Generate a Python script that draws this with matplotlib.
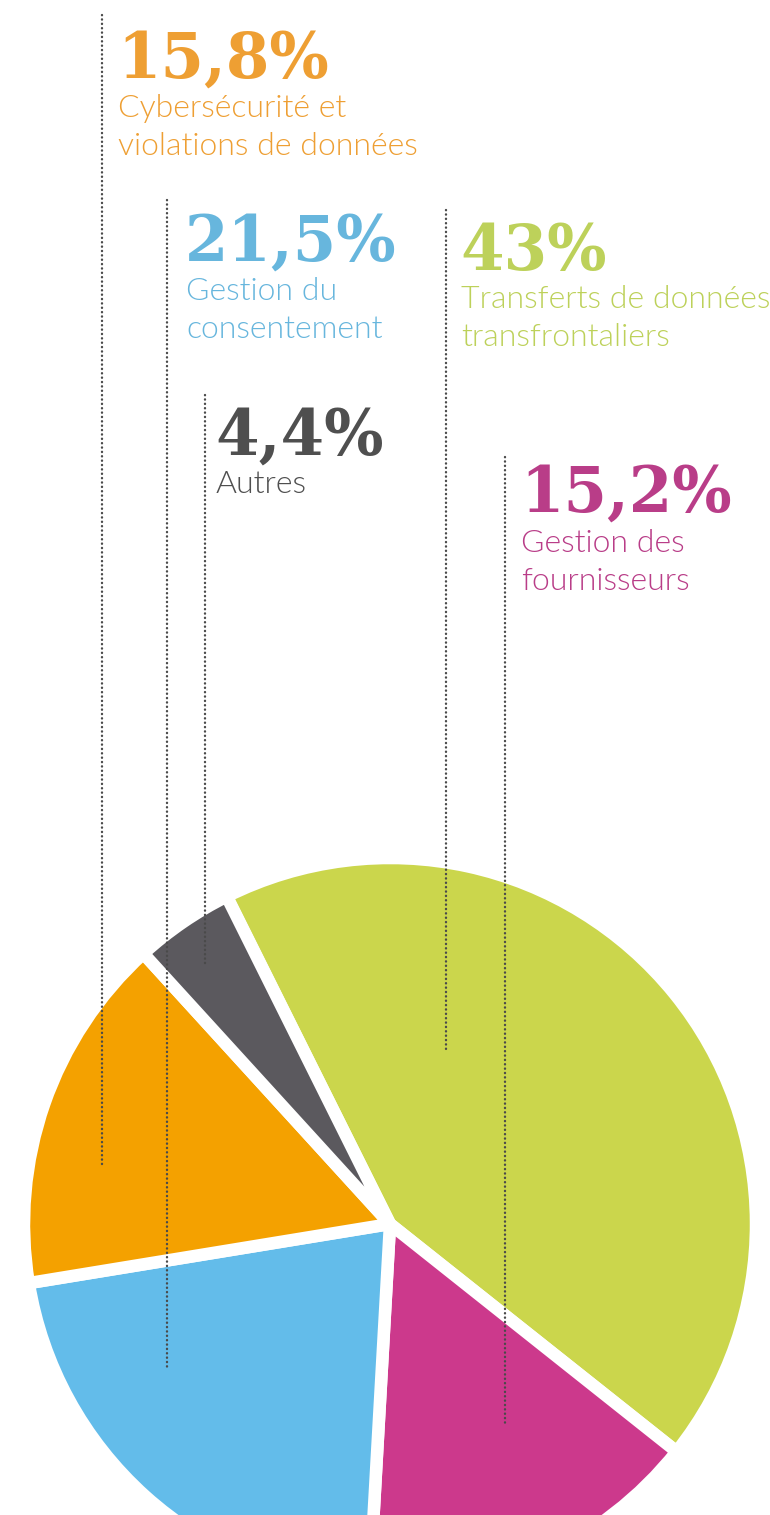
import matplotlib
matplotlib.use("Agg")
import matplotlib.pyplot as plt

# ---- data ----
categories = ["Transferts de données\ntransfrontaliers", "Gestion des\nfournisseurs",
              "Gestion du\nconsentement", "Cybersécurité et\nviolations de données", "Autres"]
values = [43, 15.2, 21.5, 15.8, 4.4]
slice_colors = ["#CBD64C", "#CC398C", "#63BCEA", "#F4A100", "#5B595E"]
text_colors = ["#BDD15A", "#B93D88", "#67B6DD", "#EE9F33", "#4F4F4F"]

# ---- layout (pixels, from top-left) ----
W, H = 770, 1515
pie_cx, pie_cy, pie_r = 390, 1224, 366
# per category: text x, pct baseline, label first baseline, leader x, leader y0, leader y1
layout = [
    (463, 270, 308, 446, 210, 1052),
    (523, 512, 552, 505, 457, 1425),
    (188, 261, 300, 167, 200, 1367),
    (120, 78, 117, 102, 15, 1165),
    (218, 455, 493, 205, 395, 965),
]

fig = plt.figure(figsize=(W / 100, H / 100), dpi=100)
ax = fig.add_axes([0, 0, 1, 1])

def Y(y):
    return H - y

ax.pie(values, colors=slice_colors, startangle=116.5, counterclock=False,
       radius=pie_r, center=(pie_cx, Y(pie_cy)),
       wedgeprops=dict(edgecolor="white", linewidth=9, joinstyle="round"))

ax.set_xlim(0, W)
ax.set_ylim(0, H)
ax.set_aspect("equal")
ax.set_axis_off()

for v, lab, tc, (tx, pb, lb, lx, ly0, ly1) in zip(values, categories, text_colors, layout):
    ax.plot([lx, lx], [Y(ly0), Y(ly1)], color="#4A4A4A", lw=1.7,
            linestyle=(0, (0.1, 1.75)), dash_capstyle="round", zorder=5)
    pct = f"{v:g}%".replace(".", ",")
    ax.text(tx - 3, Y(pb), pct, color=tc, fontsize=45, fontweight="bold",
            family="DejaVu Serif", va="baseline", ha="left", zorder=6)
    for i, line in enumerate(lab.split("\n")):
        ax.text(tx - 2, Y(lb + i * 38), line, color=tc, fontsize=23, fontweight=300,
                family=["Lato", "DejaVu Sans"], va="baseline", ha="left", zorder=6)

fig.savefig("out.png", dpi=100, facecolor="white")
